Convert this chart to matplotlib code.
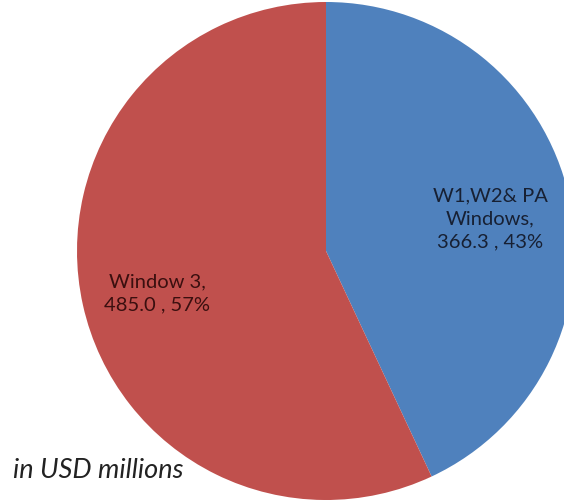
import matplotlib
matplotlib.use("Agg")
import matplotlib.pyplot as plt

labels = ["W1,W2& PA\nWindows", "Window 3"]
values = [366.3, 485.0]
percents = [43, 57]
colors = ["#4F81BD", "#C0504D"]

W, H = 564, 501
fig = plt.figure(figsize=(W / 100, H / 100), dpi=100)
ax = fig.add_axes([0, 0, 1, 1])

cx, cy, r = 326, H - 251, 249
wedges, _ = ax.pie(values, colors=colors, startangle=90, counterclock=False,
                   center=(cx, cy), radius=r, frame=True,
                   wedgeprops=dict(linewidth=0))
ax.set_xlim(0, W)
ax.set_ylim(0, H)
ax.set_aspect("equal")
ax.axis("off")

font = "Lato"
texts = [f"{labels[0]},\n{values[0]:.1f} , {percents[0]}%",
         f"{labels[1]},\n{values[1]:.1f} , {percents[1]}%"]
ax.text(490, H - 219, texts[0], ha="center", va="center", fontsize=14.5,
        family=font, color="#172033", linespacing=1.42)
ax.text(157, H - 293, texts[1], ha="center", va="center", fontsize=14.5,
        family=font, color="#3a0f0f", linespacing=1.42)
ax.text(13, H - 470, "in USD millions", ha="left", va="center", fontsize=19.5,
        family=font, style="italic", color="#222222")

fig.savefig("out.png", dpi=100)
